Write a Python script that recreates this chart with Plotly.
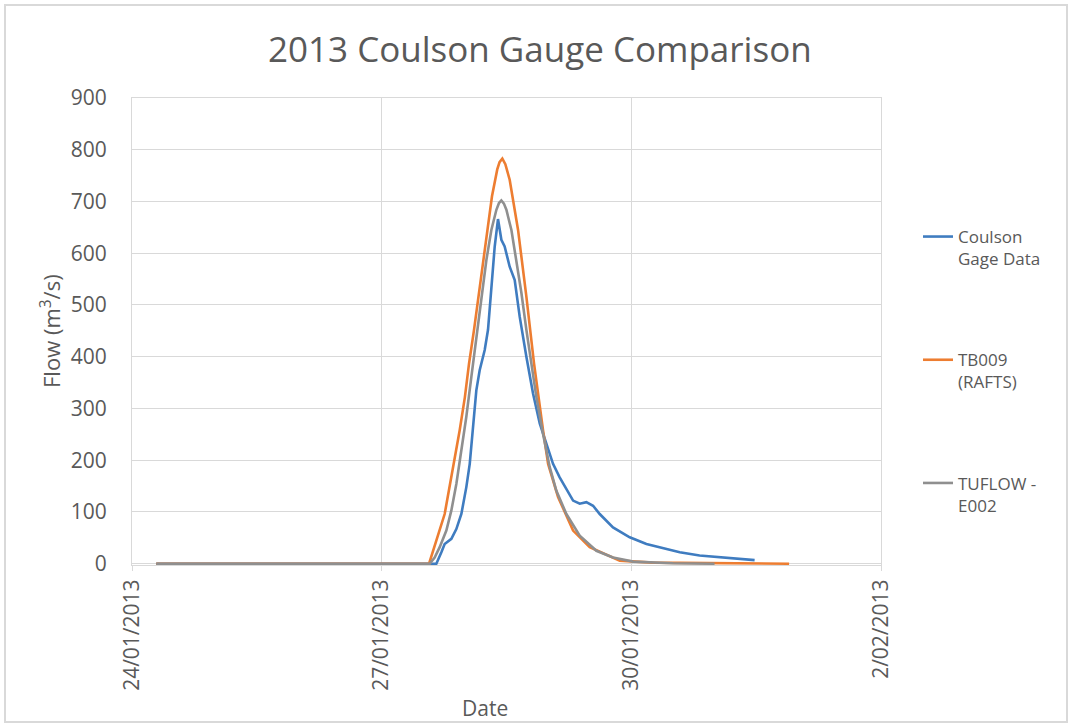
import plotly.graph_objects as go

# --- Data -------------------------------------------------------------------
gauge_times = [
    "2013-01-24 07:00", "2013-01-27 15:46", "2013-01-27 17:13", "2013-01-27 18:10",
    "2013-01-27 20:06", "2013-01-27 21:32", "2013-01-27 22:59", "2013-01-28 00:25",
    "2013-01-28 01:24", "2013-01-28 02:21", "2013-01-28 03:18", "2013-01-28 04:16",
    "2013-01-28 05:43", "2013-01-28 06:40", "2013-01-28 07:38", "2013-01-28 08:36",
    "2013-01-28 09:33", "2013-01-28 10:31", "2013-01-28 11:28", "2013-01-28 12:55",
    "2013-01-28 14:22", "2013-01-28 15:49", "2013-01-28 17:44", "2013-01-28 19:39",
    "2013-01-28 21:35", "2013-01-28 23:30", "2013-01-29 01:25", "2013-01-29 03:20",
    "2013-01-29 05:16", "2013-01-29 07:12", "2013-01-29 09:07", "2013-01-29 11:02",
    "2013-01-29 12:58", "2013-01-29 14:53", "2013-01-29 18:43", "2013-01-29 23:32",
    "2013-01-30 04:21", "2013-01-30 09:09", "2013-01-30 13:58", "2013-01-30 19:41",
    "2013-01-31 11:33",
]
gauge_flow = [
    0, 0, 22, 38,
    48, 67, 96, 148,
    193, 258, 335, 374,
    413, 452, 529, 613,
    666, 626, 613, 574,
    548, 477, 400, 329,
    271, 232, 193, 167,
    145, 122, 116, 119,
    112, 96, 70, 51,
    38, 30, 22, 16,
    7,
]

rafts_times = [
    "2013-01-24 07:00", "2013-01-27 13:40", "2013-01-27 18:10", "2013-01-27 20:46",
    "2013-01-27 22:30", "2013-01-28 00:00", "2013-01-28 01:12", "2013-01-28 02:38",
    "2013-01-28 03:53", "2013-01-28 05:14", "2013-01-28 06:23", "2013-01-28 07:49",
    "2013-01-28 09:20", "2013-01-28 10:00", "2013-01-28 10:48", "2013-01-28 11:40",
    "2013-01-28 12:55", "2013-01-28 15:20", "2013-01-28 17:44", "2013-01-28 19:56",
    "2013-01-28 22:32", "2013-01-29 00:00", "2013-01-29 02:52", "2013-01-29 07:12",
    "2013-01-29 12:00", "2013-01-29 20:40", "2013-01-30 06:00", "2013-01-31 21:30",
]
rafts_flow = [
    0, 0, 96, 193,
    258, 322, 387, 452,
    516, 581, 645, 710,
    762, 776, 783, 772,
    742, 645, 516, 387,
    258, 193, 129, 64,
    32, 6, 2, 0,
]

tuflow_times = [
    "2013-01-24 07:00", "2013-01-27 13:51", "2013-01-27 15:17", "2013-01-27 16:44",
    "2013-01-27 18:39", "2013-01-27 20:06", "2013-01-27 21:32", "2013-01-27 22:59",
    "2013-01-28 00:25", "2013-01-28 01:52", "2013-01-28 03:18", "2013-01-28 04:45",
    "2013-01-28 06:12", "2013-01-28 07:38", "2013-01-28 09:05", "2013-01-28 09:50",
    "2013-01-28 10:31", "2013-01-28 11:15", "2013-01-28 11:58", "2013-01-28 13:25",
    "2013-01-28 14:51", "2013-01-28 16:17", "2013-01-28 17:44", "2013-01-28 19:10",
    "2013-01-28 20:37", "2013-01-28 22:32", "2013-01-29 00:27", "2013-01-29 02:23",
    "2013-01-29 05:16", "2013-01-29 09:07", "2013-01-29 13:55", "2013-01-29 18:43",
    "2013-01-30 00:30", "2013-01-30 12:00", "2013-01-31 00:00",
]
tuflow_flow = [
    0, 0, 12, 32,
    64, 103, 154, 219,
    284, 361, 439, 516,
    587, 645, 684, 697,
    702, 696, 684, 645,
    587, 524, 452, 387,
    322, 251, 187, 141,
    96, 54, 25, 12,
    4, 1, 0,
]

series_names = ["Coulson<br>Gage Data", "TB009<br>(RAFTS)", "TUFLOW -<br>E002"]
series_colors = ["#3f7cc0", "#ed7d31", "#8f8f8f"]

date_ticks = ["2013-01-24", "2013-01-27", "2013-01-30", "2013-02-02"]
date_tick_labels = ["24/01/2013", "27/01/2013", "30/01/2013", "2/02/2013"]
flow_ticks = [0, 100, 200, 300, 400, 500, 600, 700, 800, 900]

# --- Figure -----------------------------------------------------------------
W, H = 1070, 727
L, R, T, B = 132, 189, 98, 162
plot_w, plot_h = W - L - R, H - T - B


def px_x(x):
    return (x - L) / plot_w


def px_y(y):
    return (H - B - y) / plot_h


FONT = "Open Sans"
TEXT = "#595959"
GRID = "#d9d9d9"

fig = go.Figure()
for name, color, xs, ys in zip(
    series_names,
    series_colors,
    [gauge_times, rafts_times, tuflow_times],
    [gauge_flow, rafts_flow, tuflow_flow],
):
    fig.add_trace(
        go.Scatter(
            x=xs, y=ys, name=name, mode="lines",
            line=dict(color=color, width=2.6),
            legendgroup=name,
        )
    )

fig.update_layout(
    width=W, height=H,
    margin=dict(l=L, r=R, t=T, b=B),
    paper_bgcolor="white", plot_bgcolor="white",
    font=dict(family=FONT, color=TEXT, size=18),
    showlegend=True,
    legend=dict(
        x=px_x(918), xanchor="left",
        y=px_y(219), yanchor="top",
        font=dict(size=17, color=TEXT),
        tracegroupgap=76, valign="top",
        bgcolor="rgba(0,0,0,0)",
    ),
    xaxis=dict(
        type="date",
        range=[date_ticks[0], date_ticks[-1]],
        tickmode="array", tickvals=date_ticks, ticktext=date_tick_labels,
        tickangle=-90,
        tickfont=dict(size=21, color=TEXT),
        ticks="outside", ticklen=5, tickcolor=GRID,
        showgrid=True, gridcolor=GRID, gridwidth=1,
        showline=True, linecolor=GRID, linewidth=1, mirror=True,
        zeroline=False,
    ),
    yaxis=dict(
        range=[-2.5, 900],
        tickmode="array", tickvals=flow_ticks,
        tickfont=dict(size=21, color=TEXT),
        ticks="", ticklabelstandoff=20,
        showgrid=True, gridcolor=GRID, gridwidth=1,
        showline=True, linecolor=GRID, linewidth=1, mirror=True,
        zeroline=False,
    ),
    annotations=[
        dict(text="2013 Coulson Gauge Comparison", xref="paper", yref="paper",
             x=px_x(540), y=px_y(48), xanchor="center", yanchor="middle",
             showarrow=False, font=dict(size=35, color=TEXT, family=FONT)),
        dict(text="Date", xref="paper", yref="paper",
             x=px_x(485), y=px_y(708), xanchor="center", yanchor="middle",
             showarrow=False, font=dict(size=21, color=TEXT, family=FONT)),
        dict(text="Flow (m<sup>3</sup>/s)", xref="paper", yref="paper",
             x=px_x(50), y=px_y(331), xanchor="center", yanchor="middle",
             textangle=-90, showarrow=False,
             font=dict(size=22, color=TEXT, family=FONT)),
    ],
    shapes=[
        dict(type="rect", xref="paper", yref="paper",
             x0=px_x(5), x1=px_x(1067), y0=px_y(722), y1=px_y(5),
             line=dict(color=GRID, width=2), fillcolor="rgba(0,0,0,0)",
             layer="below"),
    ],
)

fig.write_html("out.html")
